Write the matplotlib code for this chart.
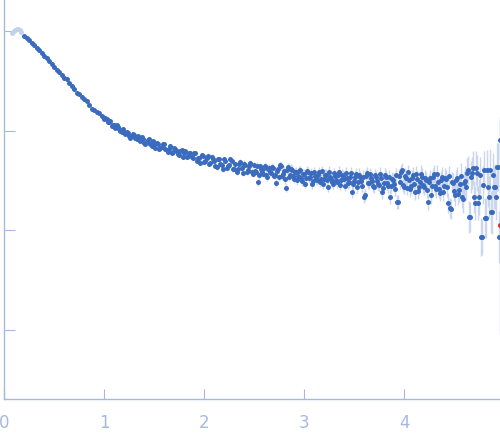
import matplotlib
matplotlib.use("Agg")
import matplotlib.pyplot as plt

# first points, excluded from the fit (drawn pale)
q_excl = [0.08, 0.095, 0.11, 0.125, 0.14, 0.155, 0.17]
logi_excl = [-0.02, 0.0, 0.015, 0.025, 0.02, 0.01, -0.005]

# low q, fine and smooth
q_low = [0.200, 0.225, 0.250, 0.275, 0.300, 0.325, 0.350, 0.375, 0.400, 0.425,
         0.450, 0.475, 0.500, 0.525, 0.550, 0.575, 0.600, 0.625, 0.650, 0.675,
         0.700, 0.725, 0.750, 0.775, 0.800, 0.825, 0.850, 0.875, 0.900, 0.925,
         0.950, 0.975, 1.000, 1.025, 1.050, 1.075, 1.100, 1.125, 1.150, 1.175,
         1.200, 1.225, 1.250, 1.275, 1.300, 1.325, 1.350, 1.375, 1.400, 1.425,
         1.450, 1.475, 1.500, 1.525, 1.550, 1.575, 1.600, 1.625, 1.650, 1.675,
         1.700, 1.725, 1.750, 1.775, 1.800, 1.825, 1.850, 1.875, 1.900, 1.925,
         1.950, 1.975, 2.000, 2.025, 2.050, 2.075, 2.100, 2.125, 2.150, 2.175,
         2.200, 2.225, 2.250, 2.275, 2.300, 2.325, 2.350, 2.375, 2.400, 2.425,
         2.450, 2.475, 2.500]
logi_low = [-0.050, -0.070, -0.095, -0.116, -0.141, -0.166, -0.191, -0.221, -0.246, -0.271,
            -0.302, -0.332, -0.357, -0.392, -0.412, -0.442, -0.467, -0.482, -0.523, -0.553,
            -0.578, -0.618, -0.633, -0.663, -0.688, -0.704, -0.739, -0.779, -0.789, -0.814,
            -0.824, -0.854, -0.889, -0.879, -0.910, -0.950, -0.945, -0.945, -0.980, -1.015,
            -1.010, -1.010, -1.055, -1.050, -1.040, -1.090, -1.080, -1.065, -1.121, -1.111,
            -1.090, -1.151, -1.136, -1.126, -1.181, -1.161, -1.136, -1.196, -1.181, -1.226,
            -1.171, -1.206, -1.241, -1.191, -1.226, -1.266, -1.221, -1.261, -1.226, -1.307,
            -1.271, -1.246, -1.312, -1.276, -1.337, -1.261, -1.307, -1.367, -1.291, -1.347,
            -1.291, -1.377, -1.342, -1.307, -1.382, -1.417, -1.332, -1.377, -1.332, -1.417,
            -1.357, -1.412, -1.347]
err_low = [0.004, 0.004, 0.004, 0.004, 0.004, 0.004, 0.004, 0.004, 0.004, 0.004,
           0.004, 0.004, 0.004, 0.004, 0.005, 0.005, 0.005, 0.005, 0.005, 0.005,
           0.005, 0.005, 0.006, 0.006, 0.006, 0.006, 0.006, 0.006, 0.007, 0.007,
           0.007, 0.007, 0.009, 0.009, 0.010, 0.010, 0.010, 0.010, 0.011, 0.011,
           0.011, 0.011, 0.012, 0.012, 0.012, 0.012, 0.013, 0.013, 0.013, 0.013,
           0.014, 0.014, 0.015, 0.015, 0.015, 0.016, 0.016, 0.016, 0.017, 0.017,
           0.017, 0.018, 0.018, 0.018, 0.019, 0.019, 0.020, 0.020, 0.020, 0.021,
           0.021, 0.022, 0.023, 0.023, 0.024, 0.024, 0.025, 0.025, 0.026, 0.026,
           0.027, 0.027, 0.028, 0.028, 0.029, 0.029, 0.030, 0.030, 0.031, 0.031,
           0.032, 0.032, 0.033]

# readings in between, middle q
q_mid = [1.0125, 1.0375, 1.0625, 1.0875, 1.1125, 1.1375, 1.1625, 1.1875, 1.2125, 1.2375,
         1.2625, 1.2875, 1.3125, 1.3375, 1.3625, 1.3875, 1.4125, 1.4375, 1.4625, 1.4875,
         1.5125, 1.5375, 1.5625, 1.5875, 1.6125, 1.6375, 1.6625, 1.6875, 1.7125, 1.7375,
         1.7625, 1.7875, 1.8125, 1.8375, 1.8625, 1.8875, 1.9125, 1.9375, 1.9625, 1.9875,
         2.0125, 2.0375, 2.0625, 2.0875, 2.1125, 2.1375, 2.1625, 2.1875, 2.2125, 2.2375,
         2.2625, 2.2875, 2.3125, 2.3375, 2.3625, 2.3875, 2.4125, 2.4375, 2.4625, 2.4875]
logi_mid = [-0.869, -0.915, -0.905, -0.945, -0.975, -0.960, -1.000, -0.980, -1.035, -1.020,
            -1.070, -1.035, -1.075, -1.050, -1.106, -1.085, -1.136, -1.095, -1.131, -1.106,
            -1.171, -1.136, -1.176, -1.131, -1.181, -1.216, -1.156, -1.211, -1.181, -1.236,
            -1.206, -1.261, -1.201, -1.256, -1.226, -1.281, -1.226, -1.276, -1.322, -1.256,
            -1.307, -1.251, -1.327, -1.291, -1.352, -1.286, -1.332, -1.387, -1.302, -1.357,
            -1.291, -1.387, -1.332, -1.387, -1.312, -1.427, -1.342, -1.397, -1.327, -1.432]
err_mid = [0.009, 0.009, 0.010, 0.010, 0.010, 0.010, 0.011, 0.011, 0.011, 0.011,
           0.012, 0.012, 0.012, 0.012, 0.013, 0.013, 0.013, 0.013, 0.014, 0.014,
           0.015, 0.015, 0.015, 0.016, 0.016, 0.016, 0.017, 0.017, 0.017, 0.018,
           0.018, 0.018, 0.019, 0.019, 0.020, 0.020, 0.020, 0.021, 0.021, 0.022,
           0.023, 0.023, 0.024, 0.024, 0.025, 0.025, 0.026, 0.026, 0.027, 0.027,
           0.028, 0.028, 0.029, 0.029, 0.030, 0.030, 0.031, 0.031, 0.032, 0.032]

# high q, noisy
q_high = [2.52, 2.54, 2.56, 2.58, 2.60, 2.62, 2.64, 2.66, 2.68, 2.70,
          2.72, 2.74, 2.76, 2.78, 2.80, 2.82, 2.84, 2.86, 2.88, 2.90,
          2.92, 2.94, 2.96, 2.98, 3.00, 3.02, 3.04, 3.06, 3.08, 3.10,
          3.12, 3.14, 3.16, 3.18, 3.20, 3.22, 3.24, 3.26, 3.28, 3.30,
          3.32, 3.34, 3.36, 3.38, 3.40, 3.42, 3.44, 3.46, 3.48, 3.50,
          3.52, 3.54, 3.56, 3.58, 3.60, 3.62, 3.64, 3.66, 3.68, 3.70,
          3.72, 3.74, 3.76, 3.78, 3.80, 3.82, 3.84, 3.86, 3.88, 3.90,
          3.92, 3.94, 3.96, 3.98, 4.00, 4.02, 4.04, 4.06, 4.08, 4.10,
          4.12, 4.14, 4.16, 4.18, 4.20, 4.22, 4.24, 4.26, 4.28, 4.30,
          4.32, 4.34, 4.36, 4.38, 4.40, 4.42, 4.44, 4.46, 4.48, 4.50,
          4.52, 4.54, 4.56, 4.58, 4.60, 4.62, 4.64, 4.66, 4.68, 4.70,
          4.72, 4.74, 4.76, 4.78, 4.80, 4.82, 4.84, 4.86, 4.88, 4.90,
          4.92, 4.94, 4.95, 4.96]
logi_high = [-1.417, -1.518, -1.357, -1.417, -1.372, -1.447, -1.387, -1.417, -1.362, -1.452,
             -1.528, -1.387, -1.347, -1.452, -1.402, -1.578, -1.367, -1.447, -1.392, -1.487,
             -1.412, -1.452, -1.397, -1.508, -1.432, -1.482, -1.417, -1.467, -1.538, -1.412,
             -1.492, -1.447, -1.518, -1.407, -1.492, -1.442, -1.563, -1.467, -1.518, -1.427,
             -1.497, -1.447, -1.543, -1.442, -1.492, -1.427, -1.528, -1.467, -1.618, -1.508,
             -1.437, -1.518, -1.462, -1.553, -1.668, -1.452, -1.528, -1.437, -1.508, -1.568,
             -1.467, -1.538, -1.432, -1.618, -1.523, -1.462, -1.558, -1.668, -1.487, -1.538,
             -1.447, -1.719, -1.518, -1.397, -1.563, -1.482, -1.417, -1.588, -1.477, -1.538,
             -1.437, -1.608, -1.518, -1.462, -1.563, -1.502, -1.719, -1.477, -1.558, -1.437,
             -1.588, -1.518, -1.623, -1.462, -1.553, -1.492, -1.729, -1.779, -1.513, -1.608,
             -1.497, -1.638, -1.538, -1.663, -1.528, -1.568, -1.397, -1.869, -1.427, -1.668,
             -1.377, -1.729, -1.447, -2.070, -1.397, -1.879, -1.568, -1.397, -1.819, -1.568,
             -1.668, -1.367, -2.070, -1.095]
err_high = [0.034, 0.035, 0.035, 0.036, 0.036, 0.037, 0.037, 0.038, 0.038, 0.039,
            0.039, 0.040, 0.040, 0.041, 0.041, 0.042, 0.042, 0.043, 0.043, 0.044,
            0.044, 0.045, 0.045, 0.046, 0.046, 0.047, 0.047, 0.048, 0.048, 0.049,
            0.049, 0.050, 0.050, 0.051, 0.051, 0.052, 0.052, 0.053, 0.053, 0.054,
            0.054, 0.055, 0.055, 0.056, 0.056, 0.057, 0.057, 0.058, 0.058, 0.059,
            0.059, 0.060, 0.060, 0.061, 0.061, 0.062, 0.062, 0.063, 0.063, 0.064,
            0.064, 0.065, 0.065, 0.066, 0.066, 0.067, 0.067, 0.068, 0.068, 0.069,
            0.069, 0.070, 0.070, 0.071, 0.072, 0.073, 0.074, 0.075, 0.076, 0.077,
            0.078, 0.079, 0.080, 0.081, 0.082, 0.083, 0.084, 0.085, 0.086, 0.087,
            0.088, 0.089, 0.090, 0.091, 0.093, 0.095, 0.097, 0.099, 0.101, 0.103,
            0.105, 0.107, 0.110, 0.113, 0.120, 0.130, 0.140, 0.150, 0.160, 0.160,
            0.170, 0.170, 0.180, 0.180, 0.190, 0.200, 0.200, 0.210, 0.220, 0.220,
            0.230, 0.240, 0.260, 0.200]

# readings in between, high q
q_high_b = [2.51, 2.53, 2.55, 2.57, 2.59, 2.61, 2.63, 2.65, 2.67, 2.69,
            2.71, 2.73, 2.75, 2.77, 2.79, 2.81, 2.83, 2.85, 2.87, 2.89,
            2.91, 2.93, 2.95, 2.97, 2.99, 3.01, 3.03, 3.05, 3.07, 3.09,
            3.11, 3.13, 3.15, 3.17, 3.19, 3.21, 3.23, 3.25, 3.27, 3.29,
            3.31, 3.33, 3.35, 3.37, 3.39, 3.41, 3.43, 3.45, 3.47, 3.49,
            3.51, 3.53, 3.55, 3.57, 3.59, 3.61, 3.63, 3.65, 3.67, 3.69,
            3.71, 3.73, 3.75, 3.77, 3.79, 3.81, 3.83, 3.85, 3.87, 3.89,
            3.91, 3.93, 3.95, 3.97, 3.99, 4.01, 4.03, 4.05, 4.07, 4.09,
            4.11, 4.13, 4.15, 4.17, 4.19, 4.21, 4.23, 4.25, 4.27, 4.29,
            4.31, 4.33, 4.35, 4.37, 4.39, 4.41, 4.43, 4.45, 4.47, 4.49,
            4.51, 4.53, 4.55, 4.57, 4.59, 4.61, 4.63, 4.65, 4.67, 4.69,
            4.71, 4.73, 4.75, 4.77, 4.79, 4.81, 4.83, 4.85, 4.87, 4.89,
            4.91, 4.93]
logi_high_b = [-1.407, -1.352, -1.447, -1.387, -1.432, -1.352, -1.467, -1.377, -1.427, -1.372,
               -1.442, -1.407, -1.467, -1.357, -1.432, -1.492, -1.397, -1.467, -1.382, -1.452,
               -1.417, -1.502, -1.402, -1.477, -1.437, -1.533, -1.402, -1.477, -1.427, -1.508,
               -1.452, -1.502, -1.417, -1.487, -1.538, -1.442, -1.502, -1.412, -1.487, -1.538,
               -1.457, -1.518, -1.417, -1.502, -1.452, -1.553, -1.477, -1.518, -1.427, -1.538,
               -1.467, -1.568, -1.442, -1.508, -1.462, -1.648, -1.427, -1.528, -1.477, -1.558,
               -1.447, -1.508, -1.543, -1.472, -1.573, -1.442, -1.528, -1.467, -1.558, -1.497,
               -1.588, -1.719, -1.457, -1.417, -1.543, -1.452, -1.573, -1.497, -1.558, -1.447,
               -1.618, -1.487, -1.568, -1.432, -1.543, -1.482, -1.598, -1.518, -1.648, -1.467,
               -1.558, -1.437, -1.583, -1.502, -1.613, -1.472, -1.568, -1.457, -1.789, -1.528,
               -1.648, -1.482, -1.598, -1.457, -1.693, -1.508, -1.427, -1.869, -1.467, -1.377,
               -1.729, -1.427, -1.668, -2.070, -1.548, -1.879, -1.397, -1.668, -1.819, -1.447,
               -1.568, -1.367]
err_high_b = [0.035, 0.035, 0.036, 0.036, 0.037, 0.037, 0.038, 0.038, 0.039, 0.039,
              0.040, 0.040, 0.041, 0.041, 0.042, 0.042, 0.043, 0.043, 0.044, 0.044,
              0.045, 0.045, 0.046, 0.046, 0.047, 0.047, 0.048, 0.048, 0.049, 0.049,
              0.050, 0.050, 0.051, 0.051, 0.052, 0.052, 0.053, 0.053, 0.054, 0.054,
              0.055, 0.055, 0.056, 0.056, 0.057, 0.057, 0.058, 0.058, 0.059, 0.059,
              0.060, 0.060, 0.061, 0.061, 0.062, 0.062, 0.063, 0.063, 0.064, 0.064,
              0.065, 0.065, 0.066, 0.066, 0.067, 0.067, 0.068, 0.068, 0.069, 0.069,
              0.070, 0.070, 0.071, 0.072, 0.073, 0.074, 0.075, 0.076, 0.077, 0.078,
              0.079, 0.080, 0.081, 0.082, 0.083, 0.084, 0.085, 0.086, 0.087, 0.088,
              0.089, 0.090, 0.092, 0.094, 0.096, 0.098, 0.100, 0.102, 0.104, 0.106,
              0.110, 0.115, 0.120, 0.130, 0.140, 0.150, 0.155, 0.160, 0.165, 0.170,
              0.175, 0.180, 0.185, 0.190, 0.195, 0.200, 0.205, 0.210, 0.215, 0.220,
              0.230, 0.240]

# flagged point at the end of the curve
q_red = [4.96]
logi_red = [-1.95]
err_red = [1.09]

axis_col = "#a6b8e2"
dot_col = "#3a6bbf"
bar_col = "#c9d6ec"

q_all = q_low + q_mid + q_high + q_high_b
logi_all = logi_low + logi_mid + logi_high + logi_high_b
err_all = err_low + err_mid + err_high + err_high_b

fig = plt.figure(figsize=(5, 4.37), dpi=100)
ax = fig.add_axes([0.008, 0.087, 0.992, 0.913])

ax.errorbar(q_all, logi_all, yerr=err_all, fmt="o", ms=3.6, mew=0,
            color=dot_col, ecolor=bar_col, elinewidth=1, capsize=0, zorder=3)
ax.errorbar(q_red, logi_red, yerr=err_red, fmt="o", ms=3.6, mew=0,
            color="#e0262a", ecolor=bar_col, elinewidth=1, capsize=0, zorder=3)
ax.plot(q_excl, logi_excl, "o", ms=3.6, mew=0, color="#c3d2ec", zorder=4)

ax.set_xlim(0, 4.96)
ax.set_ylim(-3.698, 0.312)
ax.set_xticks([0, 1, 2, 3, 4])
ax.set_yticks([0, -1, -2, -3])
ax.set_yticklabels([])

for side in ["top", "right"]:
    ax.spines[side].set_visible(False)
for side in ["left", "bottom"]:
    ax.spines[side].set_color(axis_col)
    ax.spines[side].set_linewidth(1)

ax.tick_params(axis="x", direction="in", length=7, color=axis_col,
               labelcolor=axis_col, labelsize=12, pad=11)
ax.tick_params(axis="y", direction="in", length=8, color=axis_col)

fig.savefig("out.png", dpi=100)
